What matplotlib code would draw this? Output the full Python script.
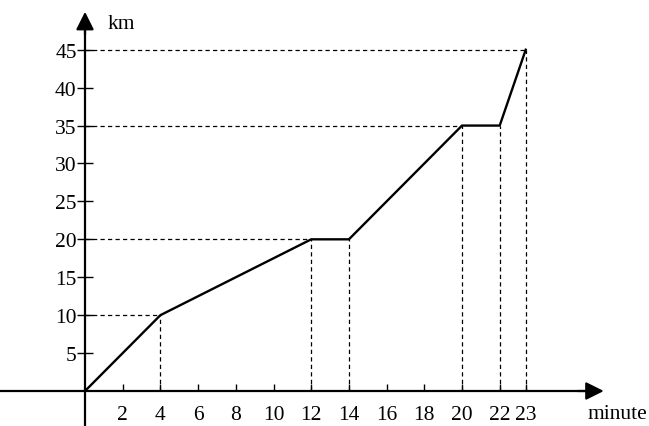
import matplotlib
matplotlib.use('Agg')
import matplotlib.pyplot as plt
import numpy as np

# distance-time data
minutes = [0, 4, 12, 14, 20, 22, 23]
km = [0, 10, 20, 20, 35, 35, 45]

# dashed helper lines
v_x = [4, 12, 14, 20, 22, 23]
v_y = [10, 20, 20, 35, 35, 45]
h_y = [10, 20, 35, 45]
h_x = [4, 12, 20, 23]

x_ticks = [2, 4, 6, 8, 10, 12, 14, 16, 18, 20, 22, 23]
y_ticks = [5, 10, 15, 20, 25, 30, 35, 40, 45]

plt.rcParams['font.family'] = ['Liberation Serif', 'DejaVu Serif']
plt.rcParams['font.size'] = 15.5

# the last minute is drawn wider than the rest
k = 1.38
def fwd(x):
    x = np.asarray(x, float)
    return np.where(x <= 22, x, 22 + (x - 22) * k)

def inv(x):
    x = np.asarray(x, float)
    return np.where(x <= 22, x, 22 + (x - 22) / k)

fig = plt.figure(figsize=(6.49, 4.27), dpi=100)
ax = fig.add_axes([0, 0, 1, 1])
ax.set_xscale('function', functions=(fwd, inv))
ax.set_xlim(-4.51, float(inv(29.92)))
ax.set_ylim(-4.615, 51.69)

for s in ['top', 'right']:
    ax.spines[s].set_visible(False)
ax.spines['left'].set_position(('data', 0))
ax.spines['bottom'].set_position(('data', 0))
ax.spines['left'].set_linewidth(1.6)
ax.spines['bottom'].set_linewidth(1.6)
ax.spines['left'].set_bounds(-4.615, 49)
ax.spines['bottom'].set_bounds(-4.51, 25.5)

ax.annotate('', xy=(0, 50), xytext=(0, 47), annotation_clip=False,
            arrowprops=dict(arrowstyle='-|>,head_length=0.6,head_width=0.3',
                            mutation_scale=18, color='black', lw=1.6,
                            shrinkA=0, shrinkB=0))
ax.annotate('', xy=(26, 0), xytext=(25, 0), annotation_clip=False,
            arrowprops=dict(arrowstyle='-|>,head_length=0.6,head_width=0.3',
                            mutation_scale=18, color='black', lw=1.6,
                            shrinkA=0, shrinkB=0))

ax.set_xticks(x_ticks)
ax.set_xticklabels([str(t) for t in x_ticks])
ax.set_yticks(y_ticks)
ax.set_yticklabels([str(t) for t in y_ticks])
ax.xaxis.set_minor_locator(plt.NullLocator())
ax.tick_params(axis='x', direction='in', length=5, width=1, pad=10)
ax.tick_params(axis='y', direction='inout', length=12, width=1, pad=0)

ax.vlines(v_x, 0, v_y, colors='black', linewidth=0.9, linestyles=(0, (3.4, 2.6)))
ax.hlines(h_y, 0, h_x, colors='black', linewidth=0.9, linestyles=(0, (3.4, 2.6)))

ax.plot(minutes, km, color='black', linewidth=1.7, solid_joinstyle='miter')

ax.text(1.2, 48.4, 'km', ha='left', va='center')
ax.text(25.39, -3.0, 'minute', ha='left', va='center')

plt.savefig('out.png', dpi=100)
plt.close()
